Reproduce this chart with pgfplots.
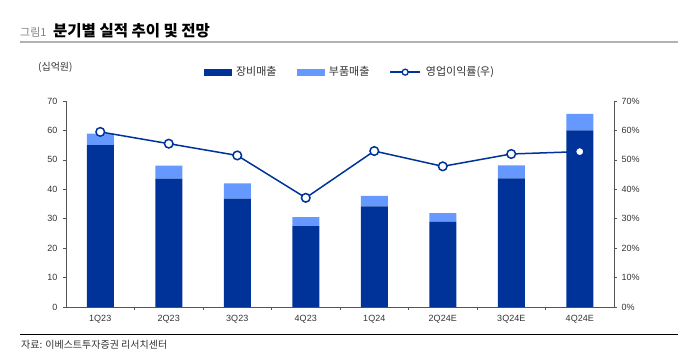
\documentclass[border=0pt]{standalone}
\usepackage{pgfplots}
\pgfplotsset{compat=1.18}
\usepackage{fontspec}
\setmainfont{Liberation Sans}
\newfontfamily\kr{Noto Sans CJK KR}
\definecolor{dkblue}{HTML}{003399}
\definecolor{ltblue}{HTML}{6699FF}
\definecolor{axgray}{HTML}{555555}
\definecolor{txtgray}{HTML}{333333}
\begin{document}
\begin{tikzpicture}[x=1pt,y=1pt]
\path[use as bounding box] (0,0) rectangle (698,360);
% title
\node[anchor=base west, inner sep=0, text=gray] at (20,324) {\kr\fontsize{11}{12}\selectfont 그림1};
\node[anchor=base west, inner sep=0] at (53,324) {\kr\bfseries\fontsize{15.5}{17}\selectfont 분기별 실적 추이 및 전망};
\draw[gray!60, line width=2pt] (20,318) -- (678,318);
% unit
\node[anchor=west, inner sep=0, text=txtgray] at (38,293) {\kr\fontsize{10}{11}\selectfont (십억원)};
% source
\draw[black, line width=1pt] (20,26) -- (678,26);
\node[anchor=west, inner sep=0, text=txtgray] at (21,15) {\kr\fontsize{10}{11}\selectfont 자료: 이베스트투자증권 리서치센터};

\begin{axis}[at={(66pt,53pt)}, anchor=south west, scale only axis,
  width=548pt, height=206pt,
  ymin=0, ymax=70, xmin=-0.5, xmax=7.5,
  ybar stacked, bar width=27pt,
  axis y line*=left, axis x line*=bottom,
  axis line style={axgray, line width=1pt},
  xtick={0,...,7},
  xticklabels={1Q23,2Q23,3Q23,4Q23,1Q24,2Q24E,3Q24E,4Q24E},
  major x tick style={draw=none},
  minor xtick={0.5,1.5,...,6.5},
  minor x tick style={axgray, line width=0.6pt},
  minor tick length=3pt,
  ytick={0,10,...,70},
  tick align=outside, major tick length=3pt,
  y tick style={axgray, line width=0.6pt},
  /pgf/number format/assume math mode=true,
  tick label style={font=\fontsize{9}{10}\selectfont, text=txtgray},
  xticklabel style={yshift=-2pt},
  yticklabel style={xshift=-2pt},
]
\addplot[fill=dkblue, draw=none] coordinates {(0,55.0) (1,43.6) (2,36.8) (3,27.5) (4,34.2) (5,28.9) (6,43.7) (7,60.0)};
\addplot[fill=ltblue, draw=none] coordinates {(0,3.9) (1,4.4) (2,5.2) (3,3.0) (4,3.6) (5,3.0) (6,4.4) (7,5.6)};
\end{axis}

\begin{axis}[at={(66pt,53pt)}, anchor=south west, scale only axis,
  width=548pt, height=206pt,
  ymin=0, ymax=70, xmin=-0.5, xmax=7.5,
  axis y line*=right, axis x line=none,
  axis line style={axgray, line width=1pt},
  ytick={0,10,...,70},
  yticklabel={\pgfmathprintnumber{\tick}\%},
  tick align=outside, major tick length=3pt,
  y tick style={axgray, line width=0.6pt},
  /pgf/number format/assume math mode=true,
  tick label style={font=\fontsize{9}{10}\selectfont, text=txtgray},
  yticklabel style={xshift=1pt},
  legend columns=3,
  legend style={at={(0.518,1.14)}, anchor=center, draw=none, fill=none,
    font=\kr\fontsize{11}{12}\selectfont, text=txtgray,
    /tikz/every even column/.append style={column sep=18pt},
    /tikz/every odd column/.append style={column sep=3pt}},
  legend cell align=left,
]
\addlegendimage{legend image code/.code={\fill[dkblue] (0pt,-3pt) rectangle (27pt,3pt);}}
\addlegendentry{장비매출}
\addlegendimage{legend image code/.code={\fill[ltblue] (0pt,-3pt) rectangle (27pt,3pt);}}
\addlegendentry{부품매출}
\addlegendimage{legend image code/.code={\draw[dkblue, line width=1.5pt] (0pt,0pt) -- (30pt,0pt); \draw[dkblue, fill=white, line width=1.3pt] (15pt,0pt) circle (3pt);}}
\addlegendentry{영업이익률(우)}
\addplot[dkblue, line width=1.5pt, mark=*, mark size=4.3pt, mark options={fill=white, draw=dkblue, line width=1.5pt}] coordinates {(0,59.5) (1,55.5) (2,51.5) (3,37.1) (4,53.0) (5,47.8) (6,52.0) (7,52.8)};
\end{axis}
\end{tikzpicture}
\end{document}
